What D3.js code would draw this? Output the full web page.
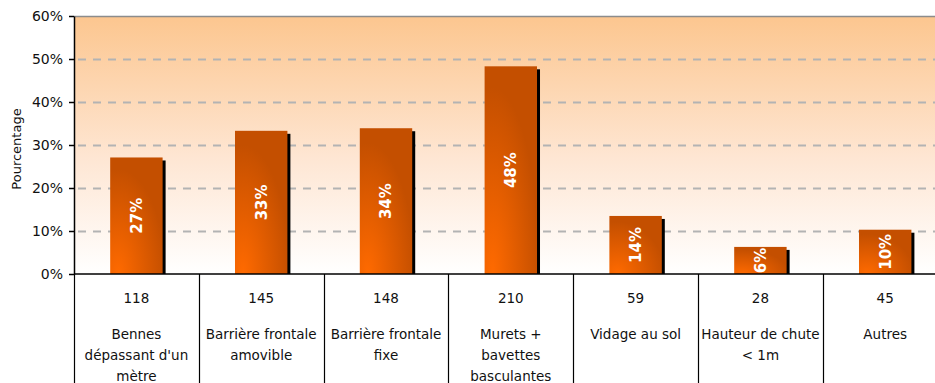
<!DOCTYPE html>
<html>
<head>
<meta charset="utf-8">
<script src="https://cdnjs.cloudflare.com/ajax/libs/d3/7.8.5/d3.min.js"></script>
<style>
  body { margin: 0; background: #fff; overflow: hidden; }
  svg { display: block; font-family: "DejaVu Sans", Verdana, sans-serif; }
</style>
</head>
<body>
<div class="chart"></div>
<script>
// data
var categories = ["Bennes dépassant d'un mètre", "Barrière frontale amovible", "Barrière frontale fixe",
    "Murets + bavettes basculantes", "Vidage au sol", "Hauteur de chute < 1m", "Autres"];
var labelLines = [["Bennes", "dépassant d'un", "mètre"], ["Barrière frontale", "amovible"], ["Barrière frontale", "fixe"],
    ["Murets +", "bavettes", "basculantes"], ["Vidage au sol"], ["Hauteur de chute", "< 1m"], ["Autres"]];
var counts = [118, 145, 148, 210, 59, 28, 45];
var percents = [27.1, 33.3, 33.9, 48.3, 13.5, 6.3, 10.3];
var yTicks = [0, 10, 20, 30, 40, 50, 60];

var margin = { top: 16, left: 74 },
    width = 935, height = 383,
    plotRight = 947.6, plotBottom = 274;

var svg = d3.select(".chart")
    .append("svg")
    .attr("width", width)
    .attr("height", height);

var defs = svg.append("defs");
// background of the plot area
var bg = defs.append("linearGradient").attr("id", "bg")
    .attr("x1", 0).attr("y1", 0).attr("x2", 0).attr("y2", 1);
bg.append("stop").attr("offset", "0%").attr("stop-color", "#fcc68f");
bg.append("stop").attr("offset", "55%").attr("stop-color", "#fee6d3");
bg.append("stop").attr("offset", "100%").attr("stop-color", "#ffffff");

// bar fill, bright in the lower left corner
var barGrad = defs.append("radialGradient").attr("id", "barGrad")
    .attr("cx", 0.15).attr("cy", 1).attr("r", 0.9);
barGrad.append("stop").attr("offset", "0%").attr("stop-color", "#ff6a00");
barGrad.append("stop").attr("offset", "100%").attr("stop-color", "#c44f00");

var x = d3.scaleBand()
    .domain(categories)
    .range([margin.left, plotRight])
    .paddingInner(0.58)
    .paddingOuter(0.29);

var band = d3.scaleBand()
    .domain(categories)
    .range([margin.left, plotRight]);

var y = d3.scaleLinear()
    .domain([0, 60])
    .range([plotBottom, margin.top]);

// plot background
svg.append("rect")
    .attr("x", margin.left)
    .attr("y", margin.top)
    .attr("width", plotRight - margin.left)
    .attr("height", plotBottom - margin.top)
    .attr("fill", "url(#bg)");

// top border
svg.append("line")
    .attr("x1", margin.left).attr("x2", plotRight)
    .attr("y1", margin.top + 0.5).attr("y2", margin.top + 0.5)
    .attr("stroke", "#8c8c8c").attr("stroke-width", 1.5);

// dashed grid lines
svg.append("g")
    .selectAll("line")
    .data(yTicks.filter(function (d) { return d > 0 && d < 60; }))
    .enter().append("line")
    .attr("x1", margin.left + 4).attr("x2", plotRight)
    .attr("y1", function (d) { return Math.round(y(d)) + 0.5; })
    .attr("y2", function (d) { return Math.round(y(d)) + 0.5; })
    .attr("stroke", "#b3b3b3")
    .attr("stroke-width", 2)
    .attr("stroke-dasharray", "8,7");

// shadows
svg.append("g")
    .selectAll("rect")
    .data(percents)
    .enter().append("rect")
    .attr("x", function (d, i) { return x(categories[i]) + 3; })
    .attr("y", function (d) { return y(d) + 3; })
    .attr("width", x.bandwidth())
    .attr("height", function (d) { return plotBottom - y(d) - 3; })
    .attr("fill", "#000");

// bars
svg.append("g")
    .selectAll("rect")
    .data(percents)
    .enter().append("rect")
    .attr("x", function (d, i) { return x(categories[i]); })
    .attr("y", function (d) { return y(d); })
    .attr("width", x.bandwidth())
    .attr("height", function (d) { return plotBottom - y(d); })
    .attr("fill", "url(#barGrad)");

// value labels inside the bars
svg.append("g")
    .selectAll("text")
    .data(percents)
    .enter().append("text")
    .attr("transform", function (d, i) {
        var cx = x(categories[i]) + x.bandwidth() / 2;
        var cy = (y(d) + plotBottom) / 2;
        return "translate(" + cx + "," + cy + ") rotate(-90)";
    })
    .attr("text-anchor", "middle")
    .attr("dy", "0.36em")
    .attr("fill", "#fff")
    .style("font-weight", "bold")
    .style("font-size", "15px")
    .text(function (d) { return Math.round(d) + "%"; });

// y axis
var yAxis = svg.append("g")
    .attr("transform", "translate(" + margin.left + ",0)")
    .call(d3.axisLeft(y).tickValues(yTicks).tickSize(5).tickSizeOuter(0)
        .tickFormat(function (d) { return d + "%"; }));
yAxis.select(".domain").attr("stroke", "#000").attr("stroke-width", 1.5);
yAxis.selectAll(".tick line").attr("stroke", "#000").attr("stroke-width", 1.5);
yAxis.selectAll(".tick text")
    .attr("x", -11)
    .attr("fill", "#111")
    .style("font-size", "14px")
    .style("font-family", "DejaVu Sans, sans-serif");

// baseline + table below
svg.append("line")
    .attr("x1", margin.left).attr("x2", plotRight)
    .attr("y1", plotBottom).attr("y2", plotBottom)
    .attr("stroke", "#000").attr("stroke-width", 1.5);

svg.append("g")
    .selectAll("line")
    .data(categories)
    .enter().append("line")
    .attr("x1", function (d) { return Math.round(band(d)) + 0.5; })
    .attr("x2", function (d) { return Math.round(band(d)) + 0.5; })
    .attr("y1", plotBottom)
    .attr("y2", height)
    .attr("stroke", "#000")
    .attr("stroke-width", 1.2);

var cells = svg.append("g")
    .selectAll("g")
    .data(categories)
    .enter().append("g")
    .attr("transform", function (d) { return "translate(" + (band(d) + band.bandwidth() / 2) + ",0)"; });

cells.append("text")
    .attr("y", 303)
    .attr("text-anchor", "middle")
    .attr("fill", "#111")
    .style("font-size", "13.5px")
    .text(function (d, i) { return counts[i]; });

cells.each(function (d, i) {
    d3.select(this).selectAll("text.lbl")
        .data(labelLines[i])
        .enter().append("text")
        .attr("class", "lbl")
        .attr("y", function (t, j) { return 339 + j * 21; })
        .attr("text-anchor", "middle")
        .attr("fill", "#111")
        .style("font-size", "13.5px")
        .text(function (t) { return t; });
});

// y axis title
svg.append("text")
    .attr("transform", "translate(21,149) rotate(-90)")
    .attr("text-anchor", "middle")
    .attr("fill", "#111")
    .style("font-size", "13px")
    .text("Pourcentage");
</script>
</body>
</html>
